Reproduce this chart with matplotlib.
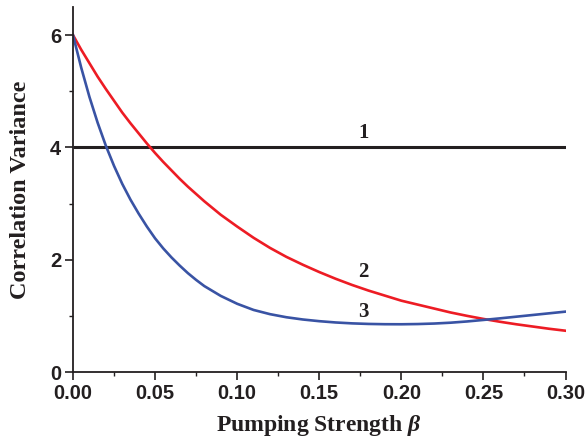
import matplotlib
matplotlib.use("Agg")
import matplotlib.pyplot as plt
from matplotlib.ticker import MultipleLocator

plt.rcParams["mathtext.fontset"] = "custom"
plt.rcParams["mathtext.it"] = "Liberation Serif:bold:italic"
plt.rcParams["mathtext.rm"] = "Liberation Serif:bold"

# Data
beta = [0.000, 0.005, 0.010, 0.015, 0.020, 0.025, 0.030, 0.035, 0.040, 0.045,
        0.050, 0.055, 0.060, 0.065, 0.070, 0.075, 0.08, 0.09,
        0.10, 0.11, 0.12, 0.13, 0.14, 0.15, 0.16, 0.17, 0.18, 0.19, 0.20,
        0.21, 0.22, 0.23, 0.24, 0.25, 0.26, 0.27, 0.28, 0.29, 0.30]
curve1 = [4.0] * len(beta)
curve2 = [6.00, 5.74, 5.50, 5.26, 5.04, 4.83, 4.62, 4.43, 4.25, 4.07,
          3.90, 3.74, 3.59, 3.44, 3.30, 3.17, 3.04, 2.80,
          2.59, 2.39, 2.21, 2.05, 1.91, 1.78, 1.66, 1.55, 1.45, 1.36, 1.27,
          1.20, 1.13, 1.06, 1.00, 0.945, 0.895, 0.85, 0.81, 0.77, 0.735]
curve3 = [6.00, 5.42, 4.90, 4.44, 4.03, 3.67, 3.35, 3.07, 2.82, 2.59,
          2.38, 2.20, 2.04, 1.895, 1.76, 1.64, 1.53, 1.355,
          1.215, 1.105, 1.03, 0.975, 0.935, 0.905, 0.882, 0.866, 0.856, 0.851, 0.85,
          0.854, 0.863, 0.878, 0.90, 0.927, 0.955, 0.985, 1.015, 1.045, 1.075]
curve_labels = ["1", "2", "3"]
label_x = [0.177, 0.177, 0.177]
label_y = [4.25, 1.775, 1.07]

xticks = [0.00, 0.05, 0.10, 0.15, 0.20, 0.25, 0.30]
yticks = [0, 2, 4, 6]

fig = plt.figure(figsize=(5.86, 4.46), dpi=100)
ax = fig.add_axes([73/586, 74/446, 492.5/586, 365/446])

dark = "#231f20"
ax.plot(beta, curve1, color=dark, lw=2.2, solid_capstyle="butt")
ax.plot(beta, curve2, color="#ed1c24", lw=1.9)
ax.plot(beta, curve3, color="#3953a4", lw=1.9)

for t, lx, ly in zip(curve_labels, label_x, label_y):
    ax.text(lx, ly, t, ha="center", va="center", fontsize=15,
            fontweight="bold", family="Liberation Serif", color=dark)

ax.set_xlim(0, 0.30)
ax.set_ylim(0, 6.5)
ax.set_xticks(xticks)
ax.set_yticks(yticks)
ax.set_xticklabels([f"{v:.2f}" for v in xticks])
ax.set_yticklabels([str(v) for v in yticks])
ax.xaxis.set_minor_locator(MultipleLocator(0.025))
ax.yaxis.set_minor_locator(MultipleLocator(1))

for s in ["top", "right"]:
    ax.spines[s].set_visible(False)
for s in ["left", "bottom"]:
    ax.spines[s].set_linewidth(1.3)
    ax.spines[s].set_color(dark)

ax.tick_params(which="major", direction="out", length=5.5, width=1.2,
               color=dark, labelsize=14.5, pad=3)
ax.tick_params(which="minor", direction="out", length=3, width=1.0, color=dark)
for lab in ax.get_xticklabels() + ax.get_yticklabels():
    lab.set_fontfamily("Liberation Sans")
    lab.set_fontweight("bold")
    lab.set_color(dark)

ax.set_xlabel(r"Pumping Strength $\mathit{\beta}$", fontsize=17, fontweight="bold",
              family="Liberation Serif", color=dark, labelpad=7)
ax.set_ylabel("Correlation Variance", fontsize=17.5, fontweight="bold",
              family="Liberation Serif", color=dark, labelpad=13.5)

fig.savefig("out.png", dpi=100)
